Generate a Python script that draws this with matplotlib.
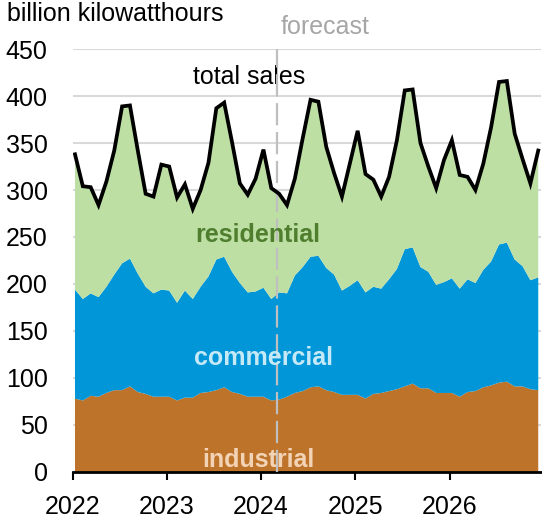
import numpy as np
import matplotlib
matplotlib.use("Agg")
import matplotlib.pyplot as plt

plt.rcParams['font.family'] = ['Liberation Sans', 'DejaVu Sans']

# monthly retail sales of electricity, Jan 2022 - Dec 2026 (billion kWh)
industrial = [78, 76, 81, 80, 84, 87, 87, 91, 85, 83, 80, 80,
              80, 76, 79, 79, 84, 85, 87, 90, 85, 83, 80, 80,
              80, 76, 77, 80, 84, 86, 90, 91, 87, 85, 82, 82,
              82, 78, 83, 84, 86, 88, 91, 94, 89, 89, 84, 84,
              84, 80, 85, 86, 90, 92, 95, 96, 91, 91, 88, 87]
commercial = [116, 108, 109, 106, 113, 123, 135, 136, 126, 114, 110, 114,
              113, 104, 114, 105, 113, 123, 139, 139, 128, 118, 111, 112,
              116, 108, 114, 110, 125, 132, 139, 139, 130, 125, 111, 116,
              122, 113, 114, 111, 119, 128, 146, 145, 129, 124, 115, 118,
              122, 115, 120, 115, 125, 132, 147, 148, 135, 128, 116, 120]
residential = [144, 120, 113, 98, 112, 132, 167, 163, 131, 99, 103, 133,
               132, 112, 113, 96, 103, 121, 161, 164, 138, 106, 104, 120,
               147, 118, 105, 94, 103, 137, 167, 164, 129, 108, 100, 130,
               159, 126, 114, 98, 109, 137, 169, 168, 132, 112, 103, 130,
               147, 121, 109, 99, 113, 143, 173, 172, 134, 114, 103, 135]
start_year = 2022
year_ticks = [2022, 2023, 2024, 2025, 2026]
y_ticks = list(range(0, 451, 50))
forecast_start = 2024.17

months = np.arange(len(industrial))
x = start_year + (months + 0.3) / 12
total = np.array(industrial) + np.array(commercial) + np.array(residential)

fig = plt.figure(figsize=(5.42, 5.22), dpi=100)
ax = fig.add_axes([0.134, 0.096, 0.864, 0.81])

ax.stackplot(x, industrial, commercial, residential,
             colors=['#BD732A', '#0096D7', '#BDDFA3'], linewidth=0,
             edgecolor='none')
ax.plot(x, total, color='black', lw=2.7, zorder=5, solid_joinstyle='miter')
ax.axvline(forecast_start, color='#BFBFBF', lw=1.6, ls=(0, (10, 3)), zorder=4)

ax.set_xlim(start_year, 2026.97)
ax.set_ylim(0, 450)
ax.set_xticks(year_ticks)
ax.set_yticks(y_ticks)
ax.yaxis.grid(True, color='#D9D9D9', lw=1.5)
ax.set_axisbelow(True)
for s in ['left', 'right', 'top']:
    ax.spines[s].set_visible(False)
ax.spines['bottom'].set_linewidth(2)
ax.tick_params(axis='y', length=0, pad=18, labelsize=18)
ax.tick_params(axis='x', length=6, width=1.5, pad=11, labelsize=18)

fig.text(0.013, 0.997, 'billion kilowatthours', fontsize=18, va='top', ha='left')
ax.text(2024.68, 473, 'forecast', color='#A6A6A6', fontsize=18,
        ha='center', va='center', clip_on=False)
ax.text(2023.87, 420, 'total sales', color='black', fontsize=18,
        ha='center', va='center')
ax.text(2023.96, 252, 'residential', color='#4E7E2E', fontsize=18,
        fontweight='bold', ha='center', va='center', zorder=6)
ax.text(2024.03, 121, 'commercial', color='#C6E9F8', fontsize=18,
        fontweight='bold', ha='center', va='center', zorder=6)
ax.text(2023.97, 13, 'industrial', color='#F3D3B5', fontsize=18,
        fontweight='bold', ha='center', va='center', zorder=6)

fig.savefig('out.png', dpi=100)
